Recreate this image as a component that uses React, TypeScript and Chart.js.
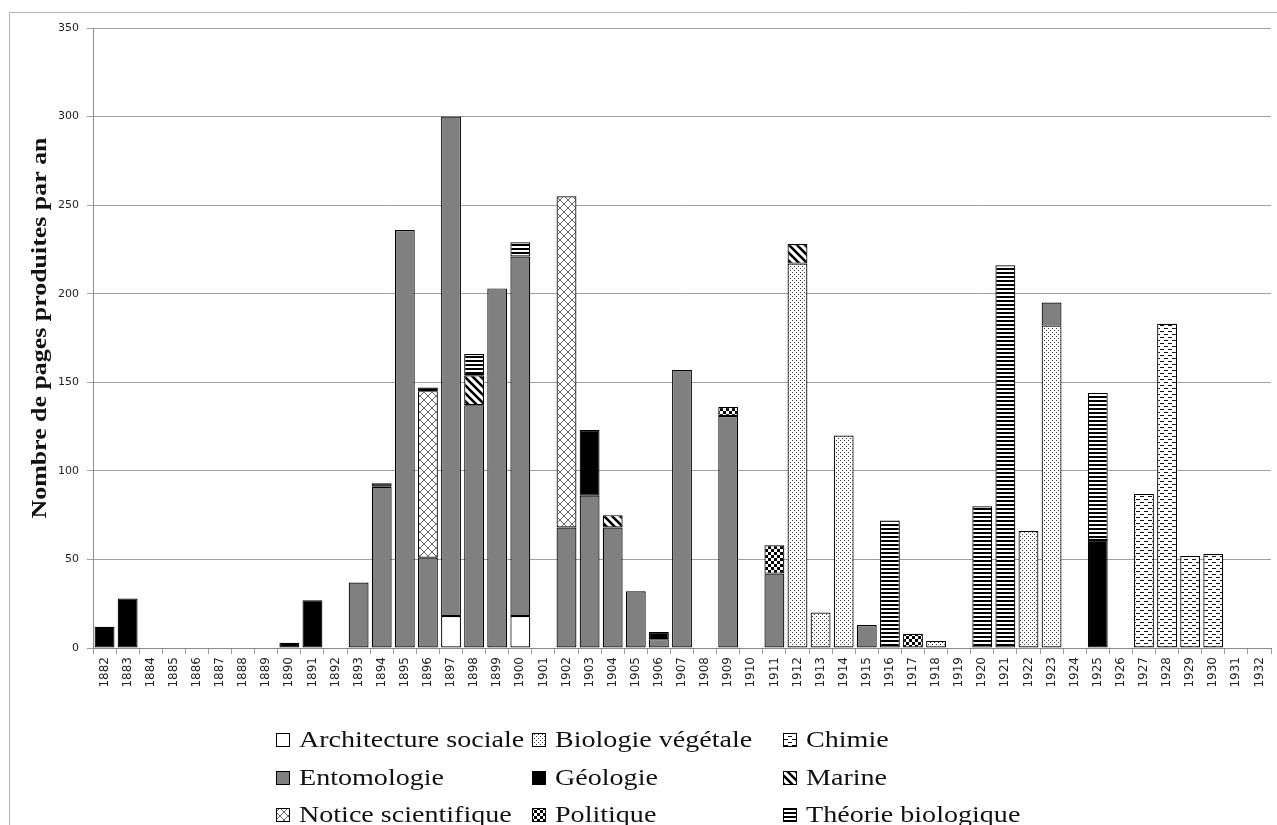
import React, { useEffect, useRef } from "react";
import { Chart, registerables } from "chart.js";

Chart.register(...registerables);

const N = null;

const years = [
  "1882", "1883", "1884", "1885", "1886", "1887", "1888", "1889", "1890", "1891",
  "1892", "1893", "1894", "1895", "1896", "1897", "1898", "1899", "1900", "1901",
  "1902", "1903", "1904", "1905", "1906", "1907", "1908", "1909", "1910", "1911",
  "1912", "1913", "1914", "1915", "1916", "1917", "1918", "1919", "1920", "1921",
  "1922", "1923", "1924", "1925", "1926", "1927", "1928", "1929", "1930", "1931",
  "1932",
];

const seriesNames = [
  "Architecture sociale",
  "Biologie végétale",
  "Chimie",
  "Entomologie",
  "Géologie",
  "Marine",
  "Notice scientifique",
  "Politique",
  "Théorie biologique",
];

const architectureSociale = [
  N, N, N, N, N, N, N, N, N, N,
  N, N, N, N, N, 18, N, N, 18, N,
  N, N, N, N, N, N, N, N, N, N,
  N, N, N, N, N, N, N, N, N, N,
  N, N, N, N, N, N, N, N, N, N, N,
];
const biologieVegetale = [
  N, N, N, N, N, N, N, N, N, N,
  N, N, N, N, N, N, N, N, N, N,
  N, N, N, N, N, N, N, N, N, N,
  217, 20, 120, N, N, N, 4, N, N, N,
  66, 182, N, N, N, N, N, N, N, N, N,
];
const chimie = [
  N, N, N, N, N, N, N, N, N, N,
  N, N, N, N, N, N, N, N, N, N,
  N, N, N, N, N, N, N, N, N, N,
  N, N, N, N, N, N, N, N, N, N,
  N, N, N, N, N, 87, 183, 52, 53, N, N,
];
const entomologie = [
  N, N, N, N, N, N, N, N, N, N,
  N, 37, 91, 236, 51, 282, 137, 203, 203, N,
  68, 86, 68, 32, 5, 157, N, 131, N, 42,
  N, N, N, 13, N, N, N, N, N, N,
  N, 13, N, N, N, N, N, N, N, N, N,
];
const geologie = [
  12, 28, N, N, N, N, N, N, 3, 27,
  N, N, 2, N, N, N, N, N, N, N,
  N, 37, N, N, 4, N, N, N, N, N,
  N, N, N, N, N, N, N, N, N, N,
  N, N, N, 61, N, N, N, N, N, N, N,
];
const marine = [
  N, N, N, N, N, N, N, N, N, N,
  N, N, N, N, N, N, 17, N, N, N,
  N, N, 7, N, N, N, N, N, N, N,
  11, N, N, N, N, N, N, N, N, N,
  N, N, N, N, N, N, N, N, N, N, N,
];
const noticeScientifique = [
  N, N, N, N, N, N, N, N, N, N,
  N, N, N, N, 94, N, N, N, N, N,
  187, N, N, N, N, N, N, N, N, N,
  N, N, N, N, N, N, N, N, N, N,
  N, N, N, N, N, N, N, N, N, N, N,
];
const politique = [
  N, N, N, N, N, N, N, N, N, N,
  N, N, N, N, N, N, N, N, N, N,
  N, N, N, N, N, N, N, 5, N, 16,
  N, N, N, N, N, 8, N, N, N, N,
  N, N, N, N, N, N, N, N, N, N, N,
];
const theorieBiologique = [
  N, N, N, N, N, N, N, N, N, N,
  N, N, N, N, 2, N, 12, N, 8, N,
  N, N, N, N, N, N, N, N, N, N,
  N, N, N, N, 72, N, N, N, 80, 216,
  N, N, N, 83, N, N, N, N, N, N, N,
];

const yTicks = [0, 50, 100, 150, 200, 250, 300, 350];
const yTitle = "Nombre de pages produites par an";

function makePattern(w: number, h: number, draw: (g: CanvasRenderingContext2D) => void) {
  const c = document.createElement("canvas");
  c.width = w;
  c.height = h;
  const g = c.getContext("2d")!;
  g.fillStyle = "#ffffff";
  g.fillRect(0, 0, w, h);
  draw(g);
  return g.createPattern(c, "repeat")!;
}

function buildFills() {
  const dots = makePattern(4, 4, (g) => {
    g.fillStyle = "#3a3a3a";
    g.fillRect(0, 0, 1, 1);
    g.fillRect(2, 2, 1, 1);
  });
  const dashes = makePattern(8, 6, (g) => {
    g.fillStyle = "#111";
    g.fillRect(0, 1, 4, 1);
    g.fillRect(4, 4, 4, 1);
  });
  const cross = makePattern(8, 8, (g) => {
    g.strokeStyle = "#555";
    g.lineWidth = 0.9;
    g.beginPath();
    g.moveTo(0, 0);
    g.lineTo(8, 8);
    g.moveTo(0, 8);
    g.lineTo(8, 0);
    g.stroke();
  });
  const stripes = makePattern(8, 8, (g) => {
    g.strokeStyle = "#000";
    g.lineWidth = 2.6;
    g.beginPath();
    for (const k of [-8, 0, 8]) {
      g.moveTo(k - 1, -1);
      g.lineTo(k + 9, 9);
    }
    g.stroke();
  });
  const checker = makePattern(6, 6, (g) => {
    g.fillStyle = "#000";
    g.fillRect(0, 0, 3, 3);
    g.fillRect(3, 3, 3, 3);
  });
  const hlines = makePattern(4, 4, (g) => {
    g.fillStyle = "#000";
    g.fillRect(0, 0, 4, 2);
  });
  return ["#ffffff", dots, dashes, "#808080", "#000000", stripes, cross, checker, hlines];
}

export default function App() {
  const ref = useRef<HTMLCanvasElement | null>(null);

  useEffect(() => {
    if (!ref.current) return;
    const fills = buildFills();
    const values = [
      architectureSociale,
      biologieVegetale,
      chimie,
      entomologie,
      geologie,
      marine,
      noticeScientifique,
      politique,
      theorieBiologique,
    ];

    const framePlugin = {
      id: "frame",
      beforeDraw(chart: any) {
        const ctx = chart.ctx;
        ctx.save();
        ctx.fillStyle = "#ffffff";
        ctx.fillRect(0, 0, chart.width, chart.height);
        ctx.strokeStyle = "#b4b4b4";
        ctx.lineWidth = 1;
        ctx.beginPath();
        ctx.moveTo(9.5, chart.height);
        ctx.lineTo(9.5, 12.5);
        ctx.lineTo(chart.width, 12.5);
        ctx.stroke();
        ctx.restore();
      },
      afterDraw(chart: any) {
        const ctx = chart.ctx;
        ctx.save();
        // y-axis title
        ctx.font = "bold 22px 'Liberation Serif'";
        const tw = ctx.measureText(yTitle).width;
        const cy = (chart.chartArea.top + chart.chartArea.bottom) / 2 - 10;
        ctx.translate(40, cy);
        ctx.rotate(-Math.PI / 2);
        ctx.scale(381 / tw, 1);
        ctx.fillStyle = "#111";
        ctx.textAlign = "center";
        ctx.textBaseline = "middle";
        ctx.fillText(yTitle, 0, 0);
        ctx.restore();

        // legend
        ctx.save();
        ctx.font = "23px 'Liberation Serif'";
        const sx = 145 / ctx.measureText("Entomologie").width;
        const cols = [276, 532, 783];
        const baselines = [747, 785, 822];
        chart.data.datasets.forEach((ds: any, i: number) => {
          const x = cols[i % 3];
          const b = baselines[Math.floor(i / 3)];
          ctx.fillStyle = ds.backgroundColor;
          ctx.fillRect(x, b - 14, 14, 14);
          ctx.strokeStyle = "#000";
          ctx.lineWidth = 1;
          ctx.strokeRect(x + 0.5, b - 13.5, 13, 13);
          ctx.save();
          ctx.translate(x + 23, b);
          ctx.scale(sx, 1);
          ctx.fillStyle = "#111";
          ctx.textAlign = "left";
          ctx.textBaseline = "alphabetic";
          ctx.fillText(ds.label, 0, 0);
          ctx.restore();
        });
        ctx.restore();
      },
    };

    const chart = new Chart(ref.current, {
      type: "bar",
      data: {
        labels: years,
        datasets: seriesNames.map((name, i) => ({
          label: name,
          data: values[i],
          backgroundColor: fills[i] as any,
          borderColor: "#000000",
          borderWidth: 1.2,
          borderSkipped: false,
          barPercentage: 0.86,
          categoryPercentage: 1,
        })),
      },
      options: {
        animation: false,
        responsive: true,
        maintainAspectRatio: false,
        layout: { padding: { top: 28, right: 6, left: 0, bottom: 0 } },
        plugins: {
          legend: { display: false },
          tooltip: { enabled: false },
          title: { display: false },
        },
        scales: {
          x: {
            stacked: true,
            offset: true,
            grid: {
              display: true,
              drawOnChartArea: false,
              drawTicks: true,
              tickLength: 6,
              color: "#9a9a9a",
              offset: true,
            },
            border: { display: true, color: "#8c8c8c" },
            ticks: {
              autoSkip: false,
              minRotation: 90,
              maxRotation: 90,
              padding: 3,
              color: "#222",
              font: { family: "'DejaVu Sans'", size: 12 },
            },
            afterFit: (s: any) => {
              s.height = 177;
            },
          },
          y: {
            stacked: true,
            min: yTicks[0],
            max: yTicks[yTicks.length - 1],
            ticks: {
              stepSize: 50,
              padding: 8,
              color: "#222",
              font: { family: "'DejaVu Sans'", size: 11 },
            },
            grid: { color: "#a0a0a0", tickLength: 6 },
            border: { color: "#8c8c8c" },
            afterFit: (s: any) => {
              s.width = 93;
            },
          },
        },
      },
      plugins: [framePlugin],
    });

    return () => chart.destroy();
  }, []);

  return (
    <div style={{ position: "absolute", left: 0, top: 0, width: 1277, height: 825, background: "#fff" }}>
      <canvas ref={ref} />
    </div>
  );
}
